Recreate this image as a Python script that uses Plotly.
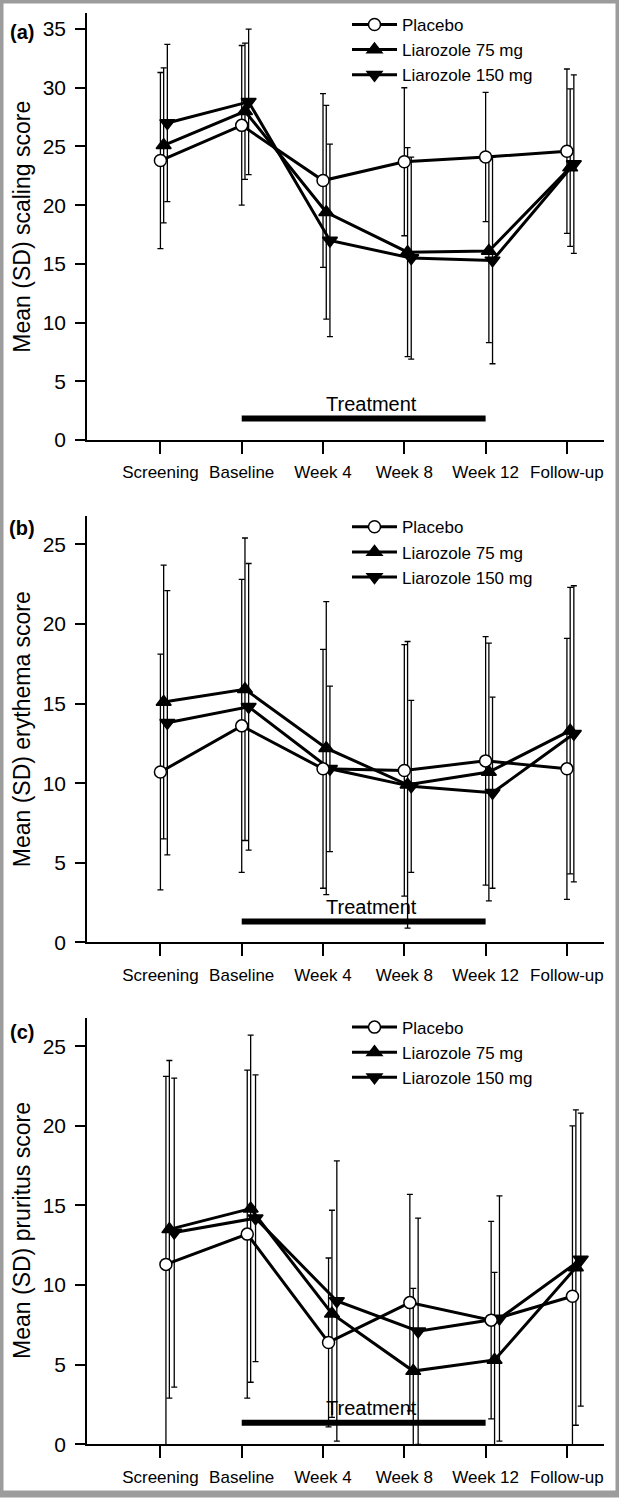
import plotly.graph_objects as go

# ---------------- data ----------------
categories = ["Screening", "Baseline", "Week 4", "Week 8", "Week 12", "Follow-up"]
series_names = ["Placebo", "Liarozole 75 mg", "Liarozole 150 mg"]

# (a) scaling score
scaling_placebo = [23.8, 26.8, 22.1, 23.7, 24.1, 24.6]
scaling_placebo_sd = [7.5, 6.8, 7.4, 6.3, 5.5, 7.0]
scaling_75 = [25.1, 28.0, 19.4, 16.0, 16.1, 23.2]
scaling_75_sd = [6.6, 5.8, 9.1, 8.9, 7.8, 6.7]
scaling_150 = [27.0, 28.8, 17.0, 15.5, 15.3, 23.5]
scaling_150_sd = [6.7, 6.2, 8.2, 8.6, 8.8, 7.6]

# (b) erythema score
erythema_placebo = [10.7, 13.6, 10.9, 10.8, 11.4, 10.9]
erythema_placebo_sd = [7.4, 9.2, 7.5, 7.9, 7.8, 8.2]
erythema_75 = [15.1, 15.9, 12.2, 9.9, 10.7, 13.3]
erythema_75_sd = [8.6, 9.5, 9.2, 9.0, 8.1, 9.0]
erythema_150 = [13.8, 14.8, 10.9, 9.8, 9.4, 13.1]
erythema_150_sd = [8.3, 9.0, 5.2, 5.4, 6.0, 9.3]

# (c) pruritus score
pruritus_placebo = [11.3, 13.2, 6.4, 8.9, 7.8, 9.3]
pruritus_placebo_sd = [11.8, 10.3, 5.3, 6.8, 6.2, 10.7]
pruritus_75 = [13.5, 14.8, 8.2, 4.6, 5.3, 11.1]
pruritus_75_sd = [10.6, 10.9, 6.5, 5.2, 5.5, 9.9]
pruritus_150 = [13.3, 14.2, 9.0, 7.1, 7.9, 11.6]
pruritus_150_sd = [9.7, 9.0, 8.8, 7.1, 7.7, 9.2]

panel_labels = ["(a)", "(b)", "(c)"]
y_titles = ["Mean (SD) scaling score", "Mean (SD) erythema score", "Mean (SD) pruritus score"]
y_tick_values = [[0, 5, 10, 15, 20, 25, 30, 35], [0, 5, 10, 15, 20, 25], [0, 5, 10, 15, 20, 25]]
treatment_label = "Treatment"
treatment_span = [1, 4]  # Baseline .. Week 12

panels = [
    [(scaling_placebo, scaling_placebo_sd), (scaling_75, scaling_75_sd), (scaling_150, scaling_150_sd)],
    [(erythema_placebo, erythema_placebo_sd), (erythema_75, erythema_75_sd), (erythema_150, erythema_150_sd)],
    [(pruritus_placebo, pruritus_placebo_sd), (pruritus_75, pruritus_75_sd), (pruritus_150, pruritus_150_sd)],
]

# ---------------- layout geometry (pixels) ----------------
W, H = 619, 1505
def fx(p):
    return p / W
def fy(p):
    return 1 - p / H

x_dom = [fx(87), fx(604)]
panel_px = [(443.3, 13.3), (949.3, 520.0), (1455.0, 1025.0)]  # (bottom, top)
y_ranges = [[0, 36.35], [0, 26.77], [0, 26.8]]
x_range = [-0.903, 5.456]
series_offsets = [[0.0, 0.04, 0.085], [0.0, 0.04, 0.085], [0.068, 0.11, 0.17]]
treat_bar_y = [1.83, 1.31, 1.35]
treat_text_y = [3.1, 2.24, 2.29]
treat_text_x = 2.6
legend_top_px = [7, 513, 1017]
label_y_px = [32, 531.7, 1040]

FONT = "Liberation Sans, Arial, Helvetica, sans-serif"
symbols = ["circle", "triangle-up", "triangle-down"]
marker_fill = ["white", "black", "black"]
marker_size = [12, 13, 13]

fig = go.Figure()
layout = dict(
    width=W, height=H,
    margin=dict(l=0, r=0, t=0, b=0),
    paper_bgcolor="white", plot_bgcolor="white",
    font=dict(family=FONT, color="black", size=17),
    showlegend=True,
    annotations=[], shapes=[],
)

for pi, series in enumerate(panels):
    sfx = "" if pi == 0 else str(pi + 1)
    xa, ya = "x" + sfx, "y" + sfx
    leg = "legend" + sfx
    xs = list(range(len(categories)))
    # error bars first (behind lines)
    for si, (vals, sds) in enumerate(series):
        xo = [x + series_offsets[pi][si] for x in xs]
        fig.add_trace(go.Scatter(
            x=xo, y=vals, mode="markers", xaxis=xa, yaxis=ya,
            marker=dict(size=1, color="rgba(0,0,0,0)"),
            error_y=dict(type="data", array=sds, visible=True, color="black",
                         thickness=1.3, width=3),
            showlegend=False, hoverinfo="skip"))
    # lines + markers, placebo drawn last
    for si in [2, 1, 0]:
        vals, sds = series[si]
        xo = [x + series_offsets[pi][si] for x in xs]
        fig.add_trace(go.Scatter(
            x=xo, y=vals, mode="lines+markers", xaxis=xa, yaxis=ya,
            name=series_names[si], legend=leg, legendrank=si + 1,
            line=dict(color="black", width=3),
            marker=dict(symbol=symbols[si], size=marker_size[si], color=marker_fill[si],
                        line=dict(color="black", width=1.5)),
        ))

    bottom, top = panel_px[pi]
    layout["xaxis" + sfx] = dict(
        domain=x_dom, range=x_range, anchor=ya,
        tickmode="array", tickvals=xs, ticktext=categories,
        showline=True, linecolor="black", linewidth=1.5,
        ticks="outside", ticklen=12, tickwidth=1.5, tickcolor="black",
        showgrid=False, zeroline=False, tickfont=dict(size=17),
        ticklabelstandoff=4,
    )
    layout["yaxis" + sfx] = dict(
        domain=[fy(bottom), fy(top)], range=y_ranges[pi], anchor=xa,
        tickmode="array", tickvals=y_tick_values[pi],
        showline=True, linecolor="black", linewidth=1.5,
        ticks="outside", ticklen=10, tickwidth=1.5, tickcolor="black",
        showgrid=False, zeroline=False, tickfont=dict(size=21),
        ticklabelstandoff=5,
    )
    layout[leg] = dict(
        x=fx(347), xanchor="left", y=fy(legend_top_px[pi]), yanchor="top",
        font=dict(size=17), bgcolor="rgba(0,0,0,0)", traceorder="normal",
        itemwidth=45,
    )
    # panel label
    layout["annotations"].append(dict(
        text="<b>" + panel_labels[pi] + "</b>", xref="paper", yref="paper",
        x=fx(22), y=fy(label_y_px[pi]), xanchor="center", yanchor="middle",
        showarrow=False, font=dict(size=20)))
    # y-axis title
    layout["annotations"].append(dict(
        text=y_titles[pi], xref="paper", yref="paper",
        x=fx(22), y=fy((bottom + top) / 2), xanchor="center", yanchor="middle",
        textangle=-90, showarrow=False, font=dict(size=23)))
    # treatment bar and label
    layout["shapes"].append(dict(
        type="line", xref=xa, yref=ya, x0=treatment_span[0], x1=treatment_span[1],
        y0=treat_bar_y[pi], y1=treat_bar_y[pi], line=dict(color="black", width=6)))
    layout["annotations"].append(dict(
        text=treatment_label, xref=xa, yref=ya, x=treat_text_x, y=treat_text_y[pi],
        xanchor="center", yanchor="middle", showarrow=False, font=dict(size=20)))

# grey frame around the figure
layout["shapes"].append(dict(
    type="rect", xref="paper", yref="paper", x0=0, x1=1, y0=0, y1=1,
    line=dict(color="#9c9c9c", width=7), fillcolor="rgba(0,0,0,0)", layer="above"))

fig.update_layout(**layout)
fig.write_html("out.html", config={"displayModeBar": False},
               post_script="document.body.style.margin='0px';")
